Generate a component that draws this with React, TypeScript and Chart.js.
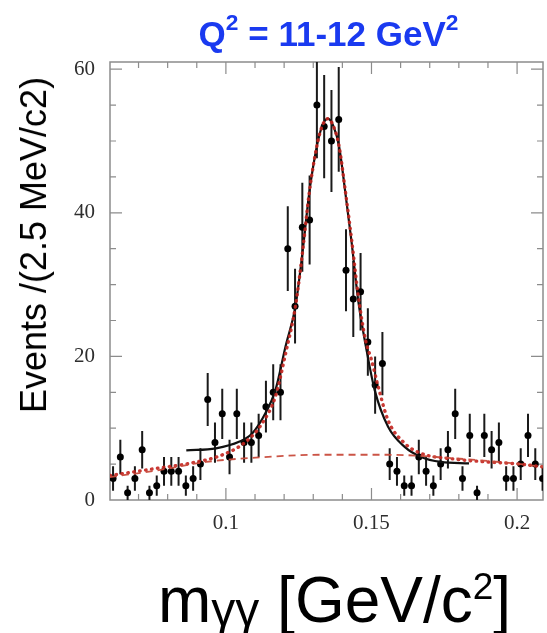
import React, { useEffect, useRef } from "react";
import { Chart, registerables } from "chart.js";

Chart.register(...registerables);

// Bin centres of m_gamma-gamma [GeV/c^2] (2.5 MeV bins)
const massBins = [
  0.06125, 0.06375, 0.06625, 0.06875, 0.07125, 0.07375, 0.07625, 0.07875, 0.08125, 0.08375,
  0.08625, 0.08875, 0.09125, 0.09375, 0.09625, 0.09875, 0.10125, 0.10375, 0.10625, 0.10875,
  0.11125, 0.11375, 0.11625, 0.11875, 0.12125, 0.12375, 0.12625, 0.12875, 0.13125, 0.13375,
  0.13625, 0.13875, 0.14125, 0.14375, 0.14625, 0.14875, 0.15125, 0.15375, 0.15625, 0.15875,
  0.16125, 0.16375, 0.16625, 0.16875, 0.17125, 0.17375, 0.17625, 0.17875, 0.18125, 0.18375,
  0.18625, 0.18875, 0.19125, 0.19375, 0.19625, 0.19875, 0.20125, 0.20375, 0.20625, 0.20875,
];

// Events per bin
const counts = [
  3, 6, 1, 3, 7, 1, 2, 4, 4, 4,
  2, 3, 5, 14, 8, 12, 6, 12, 8, 8,
  9, 13, 15, 15, 35, 27, 38, 39, 55, 52,
  50, 53, 32, 28, 29, 22, 16, 19, 5, 4,
  2, 2, 6, 4, 2, 5, 7, 12, 3, 9,
  1, 9, 7, 8, 3, 3, 5, 9, 5, 3,
];

// Error bar half-lengths
const countErrors = [
  1.7, 2.4, 1.0, 1.7, 2.6, 1.0, 1.4, 2.0, 2.0, 2.0,
  1.4, 1.7, 2.2, 3.7, 2.8, 3.5, 2.4, 3.5, 2.8, 2.8,
  3.0, 3.6, 3.9, 3.9, 5.9, 5.2, 6.2, 6.2, 7.4, 7.2,
  7.1, 7.3, 5.7, 5.3, 5.4, 4.7, 4.0, 4.4, 2.2, 2.0,
  1.4, 1.4, 2.4, 2.0, 1.4, 2.2, 2.6, 3.5, 1.7, 3.0,
  1.0, 3.0, 2.6, 2.8, 1.7, 1.7, 2.2, 3.0, 2.2, 1.7,
];

// Black solid fit curve
const fitX = [
  0.0864, 0.0966, 0.1045, 0.1091, 0.1136, 0.117, 0.1205, 0.1239, 0.1264, 0.1286,
  0.1312, 0.133, 0.135, 0.137, 0.1389, 0.1409, 0.1432, 0.1454, 0.1483, 0.1511,
  0.1557, 0.1614, 0.167, 0.1738, 0.1835,
];
const fitY = [
  6.9, 7.2, 8.1, 9.3, 12.1, 15.3, 21.4, 27.0, 34.8, 42.7,
  49.2, 52.0, 53.1, 52.0, 49.2, 43.2, 35.8, 27.9, 20.9, 15.3,
  10.2, 7.4, 6.0, 5.3, 5.1,
];

// Red dotted total curve
const totalX = [
  0.0602, 0.0761, 0.0875, 0.0989, 0.1068, 0.1125, 0.117, 0.1205, 0.1239, 0.1264,
  0.1286, 0.1312, 0.133, 0.135, 0.137, 0.1389, 0.1409, 0.1432, 0.1454, 0.148,
  0.15, 0.1523, 0.1557, 0.1614, 0.167, 0.1784, 0.1898, 0.2011, 0.2089,
];
const totalY = [
  3.4, 4.4, 5.1, 6.3, 8.1, 10.7, 14.4, 20.4, 27.0, 34.8,
  42.7, 49.2, 52.0, 53.1, 52.0, 49.2, 43.4, 36.2, 28.6, 22.2,
  19.5, 15.8, 11.1, 7.9, 6.5, 5.7, 5.3, 5.0, 4.6,
];

// Red dashed background curve
const bgX = [0.0602, 0.0761, 0.0932, 0.1102, 0.1329, 0.1557, 0.1784, 0.2011, 0.2089];
const bgY = [3.2, 4.1, 5.3, 5.9, 6.3, 6.3, 5.8, 5.0, 4.6];

// Axis ticks
const xLabelValues = [0.1, 0.15, 0.2];
const xTickValues = [0.07, 0.08, 0.09, 0.1, 0.11, 0.12, 0.13, 0.14, 0.15, 0.16, 0.17, 0.18, 0.19, 0.2];
const yLabelValues = [0, 20, 40, 60];
const yTickValues = [5, 10, 15, 20, 25, 30, 35, 40, 45, 50, 55, 60];

const FRAME = "#8c8c8c";
const SERIF = "'Liberation Serif', 'Times New Roman', serif";
const SANS = "'Liberation Sans', Arial, sans-serif";

const framePlugin = {
  id: "frameTicks",
  beforeDatasetsDraw(chart: any) {
    const { ctx, chartArea: a, scales } = chart;
    const xs = scales.x;
    const ys = scales.y;
    ctx.save();
    ctx.strokeStyle = FRAME;
    ctx.lineWidth = 1.5;
    ctx.strokeRect(a.left, a.top, a.right - a.left, a.bottom - a.top);
    ctx.lineWidth = 1.2;
    ctx.beginPath();
    xTickValues.forEach((v) => {
      const px = xs.getPixelForValue(v);
      const len = xLabelValues.includes(v) ? 12 : 6;
      ctx.moveTo(px, a.bottom);
      ctx.lineTo(px, a.bottom - len);
      ctx.moveTo(px, a.top);
      ctx.lineTo(px, a.top + len);
    });
    yTickValues.forEach((v) => {
      const py = ys.getPixelForValue(v);
      const len = yLabelValues.includes(v) ? 12 : 6;
      ctx.moveTo(a.left, py);
      ctx.lineTo(a.left + len, py);
      ctx.moveTo(a.right, py);
      ctx.lineTo(a.right - len, py);
    });
    ctx.stroke();

    // error bars
    ctx.beginPath();
    ctx.rect(a.left, a.top, a.right - a.left, a.bottom - a.top);
    ctx.clip();
    ctx.strokeStyle = "#1a1a1a";
    ctx.lineWidth = 2;
    ctx.beginPath();
    massBins.forEach((m, i) => {
      const px = xs.getPixelForValue(m);
      ctx.moveTo(px, ys.getPixelForValue(counts[i] - countErrors[i]));
      ctx.lineTo(px, ys.getPixelForValue(counts[i] + countErrors[i]));
    });
    ctx.stroke();
    ctx.restore();
  },
};

export default function App() {
  const canvasRef = useRef<HTMLCanvasElement>(null);

  useEffect(() => {
    const toXY = (xs: number[], ys: number[]) => xs.map((x, i) => ({ x, y: ys[i] }));
    const chart = new Chart(canvasRef.current as HTMLCanvasElement, {
      type: "scatter",
      data: {
        datasets: [
          {
            label: "background",
            data: toXY(bgX, bgY),
            showLine: true,
            borderColor: "rgba(200,75,60,0.95)",
            borderWidth: 1.8,
            borderDash: [7, 5],
            pointRadius: 0,
            cubicInterpolationMode: "monotone",
          },
          {
            label: "total",
            data: toXY(totalX, totalY),
            showLine: true,
            borderColor: "rgba(195,35,30,0.9)",
            borderWidth: 3.4,
            borderDash: [0.5, 5.5],
            borderCapStyle: "round",
            pointRadius: 0,
            cubicInterpolationMode: "monotone",
          },
          {
            label: "fit",
            data: toXY(fitX, fitY),
            showLine: true,
            borderColor: "#111111",
            borderWidth: 2.2,
            pointRadius: 0,
            cubicInterpolationMode: "monotone",
          },
          {
            label: "data",
            data: toXY(massBins, counts),
            showLine: false,
            pointRadius: 3.5,
            pointBackgroundColor: "#000000",
            pointBorderWidth: 0,
          },
        ],
      },
      options: {
        animation: false,
        responsive: false,
        maintainAspectRatio: false,
        layout: { padding: { left: 0, top: 62, right: 1, bottom: 0 } },
        plugins: { legend: { display: false }, tooltip: { enabled: false }, title: { display: false } },
        scales: {
          x: {
            type: "linear",
            min: 0.0602,
            max: 0.2089,
            afterBuildTicks: (s: any) => {
              s.ticks = xLabelValues.map((v) => ({ value: v }));
            },
            afterFit: (s: any) => {
              s.height = 133;
            },
            ticks: {
              autoSkip: false,
              maxRotation: 0,
              padding: 11,
              color: "#2e2e2e",
              font: { family: SERIF, size: 21 },
              callback: (v: any) => String(v),
            },
            grid: { display: false, drawTicks: false },
            border: { display: false },
          },
          y: {
            type: "linear",
            min: 0,
            max: 61,
            afterBuildTicks: (s: any) => {
              s.ticks = yLabelValues.map((v) => ({ value: v }));
            },
            afterFit: (s: any) => {
              s.width = 110;
            },
            ticks: {
              autoSkip: false,
              padding: 15,
              color: "#2e2e2e",
              font: { family: SERIF, size: 21 },
              callback: (v: any) => String(v),
            },
            grid: { display: false, drawTicks: false },
            border: { display: false },
          },
        },
      },
      plugins: [framePlugin],
    } as any);
    return () => chart.destroy();
  }, []);

  const supTitle: React.CSSProperties = { fontSize: "0.65em", position: "relative", top: "-0.7em", lineHeight: 0 };

  return (
    <div style={{ position: "absolute", left: 0, top: 0, width: 547, height: 633, background: "#ffffff", overflow: "hidden" }}>
      <canvas
        ref={canvasRef}
        width={547}
        height={633}
        style={{ position: "absolute", left: 0, top: 0, width: 547, height: 633 }}
      />
      <div
        style={{
          position: "absolute",
          left: 110,
          width: 437,
          top: 46 - 0.8465 * 35,
          fontFamily: SANS,
          fontWeight: "bold",
          fontSize: 35,
          lineHeight: "35px",
          color: "#1a3af0",
          textAlign: "center",
          whiteSpace: "nowrap",
        }}
      >
        Q<span style={supTitle}>2</span> = 11-12 GeV<span style={supTitle}>2</span>
      </div>
      <div
        style={{
          position: "absolute",
          left: 34,
          top: 245,
          transform: "translate(-50%, -50%) rotate(-90deg)",
          fontFamily: SANS,
          fontSize: 36,
          lineHeight: "36px",
          color: "#000",
          whiteSpace: "nowrap",
        }}
      >
        Events /(2.5 MeV/c2)
      </div>
      <div
        style={{
          position: "absolute",
          left: 158,
          top: 622 - 0.8465 * 64,
          fontFamily: SANS,
          fontSize: 64,
          lineHeight: "64px",
          color: "#000",
          whiteSpace: "nowrap",
        }}
      >
        m<span style={{ fontSize: 48, position: "relative", top: 4, lineHeight: 0 }}>γγ</span> [GeV/c
        <span style={{ fontSize: 37, position: "relative", top: -23, lineHeight: 0 }}>2</span>]
      </div>
    </div>
  );
}
